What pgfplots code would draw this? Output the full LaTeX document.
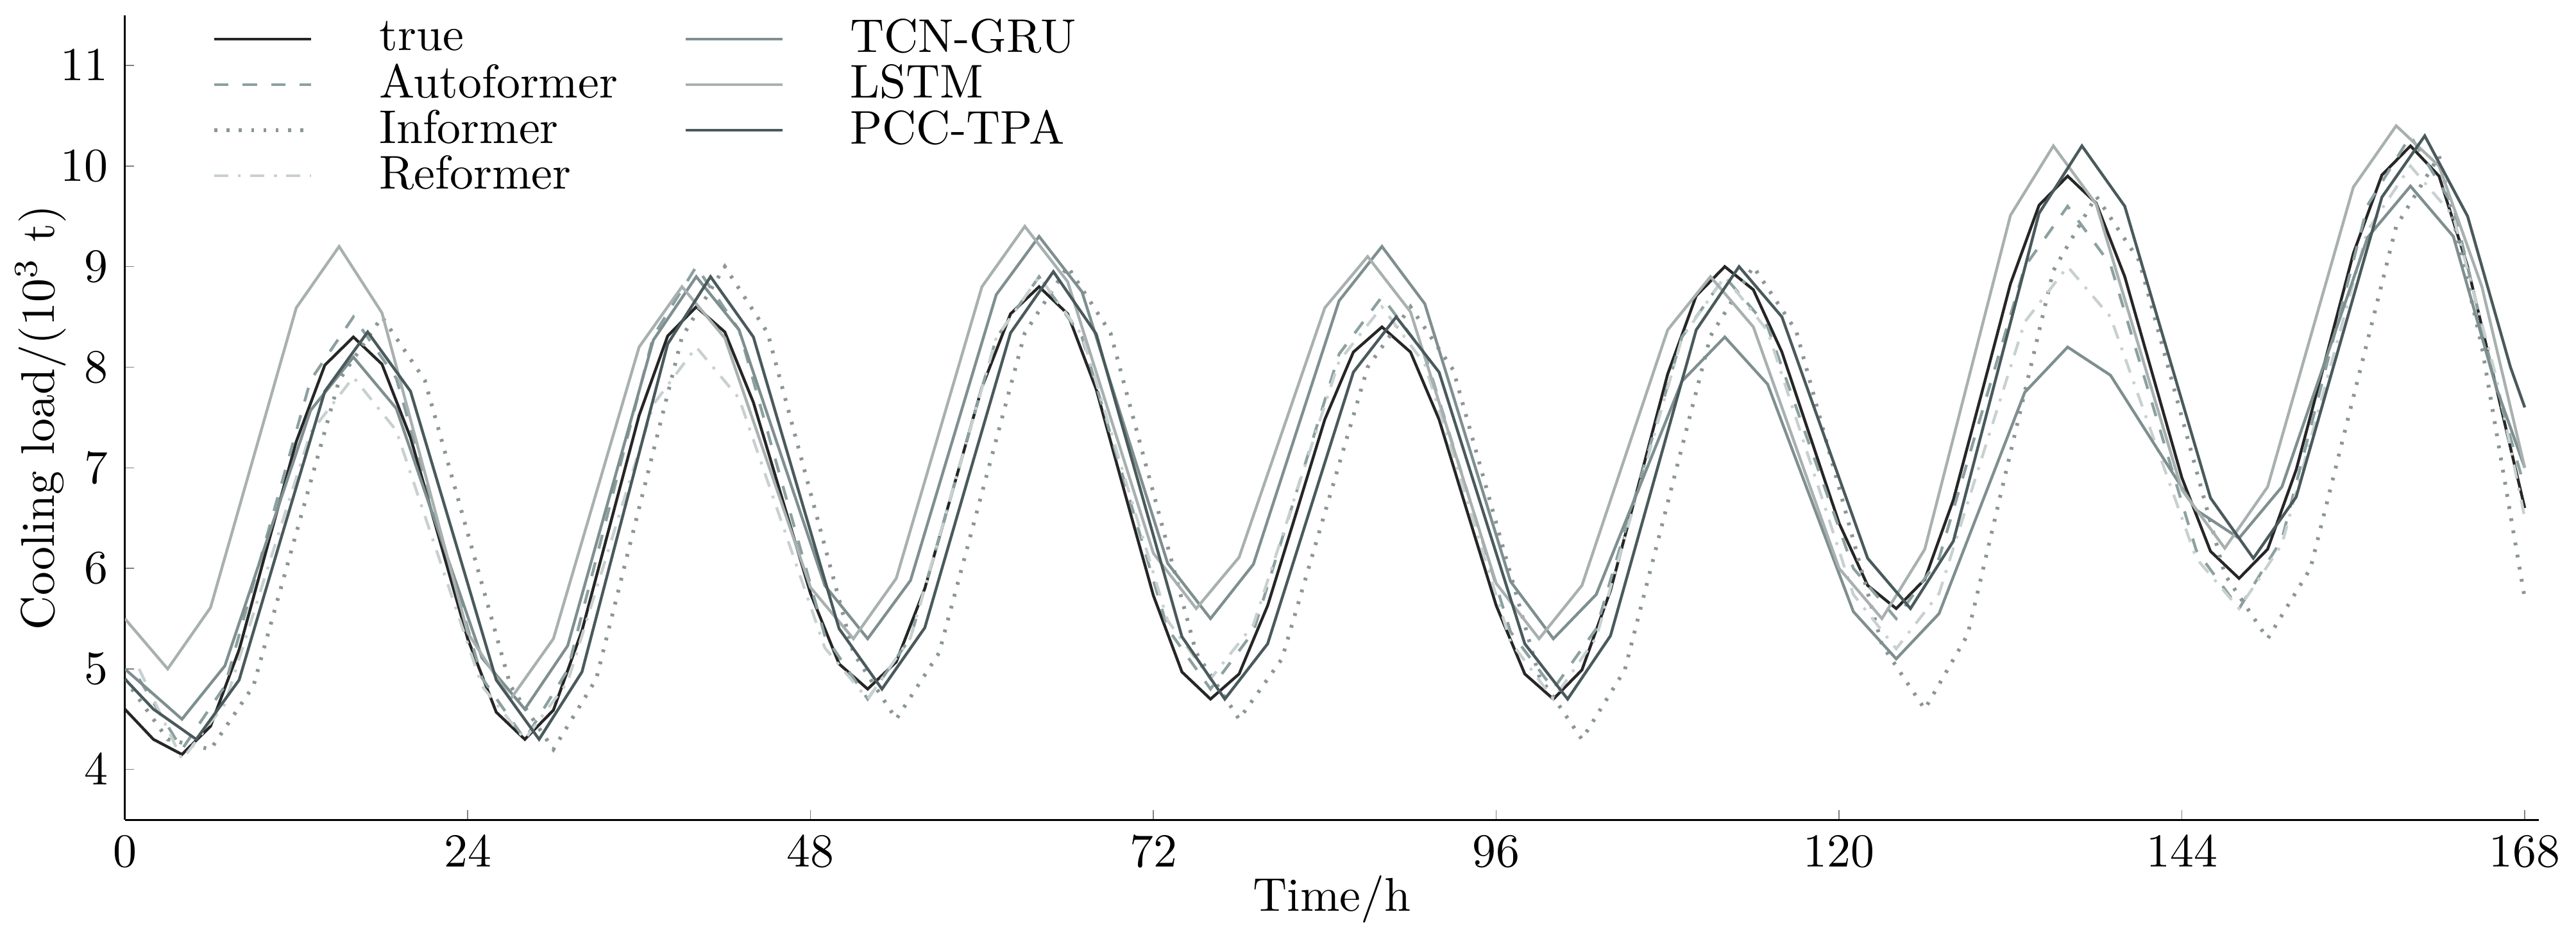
\documentclass[border=0pt]{standalone}
\usepackage{pgfplots}
\pgfplotsset{compat=1.18}
\begin{document}
\begin{tikzpicture}
\begin{axis}[
  scale only axis, width=510pt, height=170pt,
  axis lines*=left, xmin=0, xmax=169, ymin=3.5, ymax=11.5,
  xtick={0,24,48,72,96,120,144,168}, ytick={4,5,6,7,8,9,10,11},
  tick align=inside, major tick length=2pt,
  xlabel={Time/h}, ylabel={Cooling load/(10$^3$ t)},
  xlabel style={yshift=5pt}, ylabel style={yshift=-8pt},
  tick label style={font=\normalsize}, label style={font=\normalsize},
  legend style={draw=none, fill=none, at={(0.03,1.02)}, anchor=north west, font=\normalsize, row sep=-3pt, column sep=12pt},
  legend columns=4, transpose legend, legend cell align=left,
  legend image post style={xscale=1.2},
  every axis plot/.append style={line width=0.6pt},
]
\addplot[color=black!85] coordinates {(0,4.6)(2,4.3)(4,4.15)(6,4.43)(8,5.19)(10,6.23)(12,7.26)(14,8.02)(16,8.3)(18,8.03)(20,7.3)(22,6.3)(24,5.3)(26,4.57)(28,4.3)(30,4.59)(32,5.38)(34,6.45)(36,7.52)(38,8.31)(40,8.6)(42,8.35)(44,7.65)(46,6.7)(48,5.75)(50,5.05)(52,4.8)(54,5.07)(56,5.8)(58,6.8)(60,7.8)(62,8.53)(64,8.8)(66,8.53)(68,7.78)(70,6.75)(72,5.73)(74,4.97)(76,4.7)(78,4.95)(80,5.63)(82,6.55)(84,7.48)(86,8.15)(88,8.4)(90,8.15)(92,7.48)(94,6.55)(96,5.63)(98,4.95)(100,4.7)(102,4.99)(104,5.78)(106,6.85)(108,7.93)(110,8.71)(112,9.0)(114,8.77)(116,8.15)(118,7.3)(120,6.45)(122,5.83)(124,5.6)(126,5.89)(128,6.68)(130,7.75)(132,8.83)(134,9.61)(136,9.9)(138,9.63)(140,8.9)(142,7.9)(144,6.9)(146,6.17)(148,5.9)(150,6.19)(152,6.98)(154,8.05)(156,9.13)(158,9.91)(160,10.2)(162,9.9)(164,9.0)(166,7.8)(168,6.6)};
\addlegendentry{true}
\addplot[color={rgb,255:red,140;green,160;blue,160}, dashed] coordinates {(1,4.9)(4,4.2)(7,4.83)(10,6.35)(13,7.87)(16,8.5)(19,7.89)(22,6.4)(25,4.91)(28,4.3)(31,4.99)(34,6.65)(37,8.31)(40,9.0)(43,8.37)(46,6.85)(49,5.33)(52,4.7)(55,5.31)(58,6.8)(61,8.29)(64,8.9)(67,8.3)(70,6.85)(73,5.4)(76,4.8)(79,5.37)(82,6.75)(85,8.13)(88,8.7)(91,8.13)(94,6.75)(97,5.37)(100,4.8)(103,5.4)(106,6.85)(109,8.3)(112,8.9)(115,8.4)(118,7.2)(121,6.0)(124,5.5)(127,6.1)(130,7.55)(133,9.0)(136,9.6)(139,9.02)(142,7.6)(145,6.18)(148,5.6)(151,6.29)(154,7.95)(157,9.61)(160,10.3)(163,9.6)(166,7.8)(168,6.8)};
\addlegendentry{Autoformer}
\addplot[color={rgb,255:red,140;green,150;blue,150}, dotted, line width=0.8pt] coordinates {(0,4.9)(3,4.3)(6,4.2)(9,4.83)(12,6.35)(15,7.87)(18,8.5)(21,7.87)(24,6.35)(27,4.83)(30,4.2)(33,4.9)(36,6.6)(39,8.3)(42,9.0)(45,8.34)(48,6.75)(51,5.16)(54,4.5)(57,5.16)(60,6.75)(63,8.34)(66,9.0)(69,8.34)(72,6.75)(75,5.16)(78,4.5)(81,5.1)(84,6.55)(87,8.0)(90,8.6)(93,7.97)(96,6.45)(99,4.93)(102,4.3)(105,4.99)(108,6.65)(111,8.31)(114,9.0)(117,8.36)(120,6.8)(123,5.24)(126,4.6)(129,5.34)(132,7.15)(135,8.96)(138,9.7)(141,9.06)(144,7.5)(147,5.94)(150,5.3)(153,6.0)(156,7.7)(159,9.4)(162,10.1)(165,8.2)(168,5.7)};
\addlegendentry{Informer}
\addplot[color={rgb,255:red,200;green,208;blue,208}, dash dot] coordinates {(1,5.0)(4,4.1)(7,4.65)(10,6.0)(13,7.35)(16,7.9)(19,7.37)(22,6.1)(25,4.83)(28,4.3)(31,4.87)(34,6.25)(37,7.63)(40,8.2)(43,7.69)(46,6.45)(49,5.21)(52,4.7)(55,5.31)(58,6.8)(61,8.29)(64,8.9)(67,8.32)(70,6.9)(73,5.48)(76,4.9)(79,5.44)(82,6.75)(85,8.06)(88,8.6)(91,8.03)(94,6.65)(97,5.27)(100,4.7)(103,5.31)(106,6.8)(109,8.29)(112,8.9)(115,8.36)(118,7.05)(121,5.74)(124,5.2)(127,5.75)(130,7.1)(133,8.45)(136,9.0)(139,8.5)(142,7.3)(145,6.1)(148,5.6)(151,6.24)(154,7.8)(157,9.36)(160,10.0)(163,9.5)(166,7.9)(168,6.5)};
\addlegendentry{Reformer}
\addplot[color={rgb,255:red,127;green,143;blue,143}] coordinates {(0,5.0)(4,4.5)(7,5.03)(10,6.3)(13,7.57)(16,8.1)(19,7.59)(22,6.35)(25,5.11)(28,4.6)(31,5.23)(34,6.75)(37,8.27)(40,8.9)(43,8.37)(46,7.1)(49,5.83)(52,5.3)(55,5.88)(58,7.3)(61,8.72)(64,9.3)(67,8.75)(70,7.4)(73,6.05)(76,5.5)(79,6.04)(82,7.35)(85,8.66)(88,9.2)(91,8.63)(94,7.25)(97,5.87)(100,5.3)(103,5.74)(106,6.8)(109,7.86)(112,8.3)(115,7.83)(118,6.7)(121,5.57)(124,5.1)(127,5.55)(130,6.65)(133,7.75)(136,8.2)(139,7.92)(142,7.25)(145,6.58)(148,6.3)(151,6.81)(154,8.05)(157,9.29)(160,9.8)(163,9.3)(166,7.8)(168,7.0)};
\addlegendentry{TCN-GRU}
\addplot[color={rgb,255:red,168;green,176;blue,176}] coordinates {(0,5.5)(3,5.0)(6,5.61)(9,7.1)(12,8.59)(15,9.2)(18,8.54)(21,6.95)(24,5.36)(27,4.7)(30,5.3)(33,6.75)(36,8.2)(39,8.8)(42,8.29)(45,7.05)(48,5.81)(51,5.3)(54,5.9)(57,7.35)(60,8.8)(63,9.4)(66,8.85)(69,7.5)(72,6.15)(75,5.6)(78,6.11)(81,7.35)(84,8.59)(87,9.1)(90,8.55)(93,7.2)(96,5.85)(99,5.3)(102,5.83)(105,7.1)(108,8.37)(111,8.9)(114,8.4)(117,7.2)(120,6.0)(123,5.5)(126,6.19)(129,7.85)(132,9.51)(135,10.2)(138,9.62)(141,8.2)(144,6.78)(147,6.2)(150,6.81)(153,8.3)(156,9.79)(159,10.4)(162,10.0)(165,8.8)(168,7.0)};
\addlegendentry{LSTM}
\addplot[color={rgb,255:red,74;green,90;blue,92}] coordinates {(0,4.9)(2,4.6)(5,4.3)(8,4.89)(11,6.33)(14,7.76)(17,8.35)(20,7.76)(23,6.33)(26,4.89)(29,4.3)(32,4.97)(35,6.6)(38,8.23)(41,8.9)(44,8.3)(47,6.85)(50,5.4)(53,4.8)(56,5.41)(59,6.88)(62,8.34)(65,8.95)(68,8.33)(71,6.83)(74,5.32)(77,4.7)(80,5.25)(83,6.6)(86,7.95)(89,8.5)(92,7.95)(95,6.6)(98,5.25)(101,4.7)(104,5.33)(107,6.85)(110,8.37)(113,9.0)(116,8.5)(119,7.3)(122,6.1)(125,5.6)(128,6.27)(131,7.9)(134,9.53)(137,10.2)(140,9.6)(143,8.15)(146,6.7)(149,6.1)(152,6.71)(155,8.2)(158,9.69)(161,10.3)(164,9.5)(167,8.0)(168,7.6)};
\addlegendentry{PCC-TPA}
\end{axis}
\end{tikzpicture}
\end{document}
